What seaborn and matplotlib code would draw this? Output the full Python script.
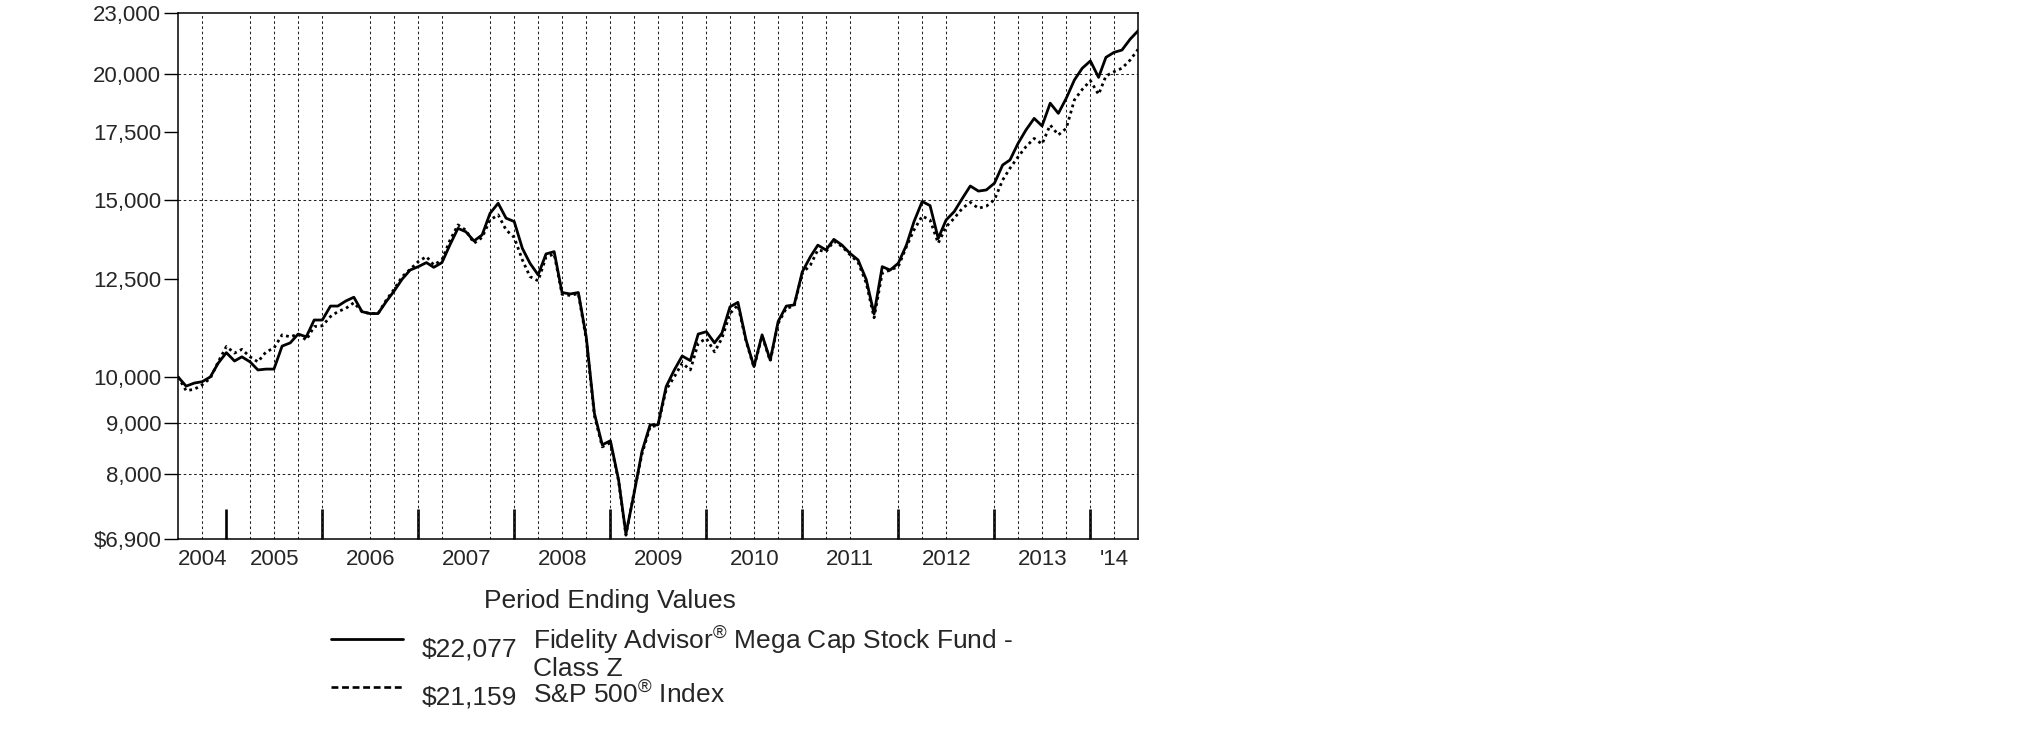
import pandas as pd
import seaborn as sns
import matplotlib.pyplot as plt
import matplotlib.dates as mdates
from matplotlib.lines import Line2D
from matplotlib.ticker import NullLocator

# Hypothetical growth of $10,000, month ends Jun 2004 - Jun 2014
fund_values = [
    10000, 9790, 9860, 9890, 10000, 10320, 10570, 10370, 10470, 10350,
    10160, 10180, 10180, 10730, 10810, 11030, 10960, 11390, 11390, 11760,
    11760, 11900, 12000, 11610, 11560, 11560, 11880, 12170, 12510, 12770,
    12870, 12990, 12850, 12990, 13520, 14050, 13940, 13650, 13840, 14540,
    14880, 14380, 14270, 13420, 12970, 12630, 13250, 13320, 12130, 12090,
    12130, 10960, 9200, 8560, 8640, 7900, 6980, 7660, 8430, 8960,
    8960, 9780, 10160, 10490, 10380, 11030, 11090, 10810, 11050, 11740,
    11860, 10880, 10240, 11010, 10390, 11350, 11760, 11790, 12720, 13170,
    13520, 13370, 13700, 13520, 13270, 13070, 12500, 11550, 12870, 12770,
    12970, 13520, 14270, 14940, 14800, 13730, 14320, 14600, 15050, 15480,
    15300, 15340, 15580, 16240, 16430, 17070, 17600, 18070, 17760, 18710,
    18280, 18920, 19730, 20270, 20610, 19850, 20780, 21020, 21130, 21660,
    22077,
]
index_values = [
    10000, 9690, 9720, 9820, 9970, 10350, 10720, 10560, 10650, 10470,
    10350, 10590, 10680, 11010, 10960, 11030, 10880, 11220, 11240, 11480,
    11610, 11700, 11850, 11610, 11560, 11560, 11920, 12220, 12580, 12790,
    13020, 13170, 12920, 13070, 13660, 14160, 13990, 13580, 13760, 14320,
    14490, 14000, 13760, 13070, 12580, 12460, 13150, 13250, 12080, 12050,
    12100, 10900, 9150, 8520, 8600, 7880, 6960, 7680, 8380, 8920,
    8950, 9710, 10000, 10320, 10160, 10800, 10920, 10590, 10920, 11560,
    11790, 10850, 10220, 10980, 10370, 11300, 11700, 11760, 12680, 12920,
    13370, 13320, 13640, 13480, 13230, 13000, 12400, 11450, 12680, 12770,
    12870, 13470, 14000, 14450, 14320, 13580, 14100, 14380, 14710, 14910,
    14710, 14780, 15000, 15690, 16120, 16550, 16940, 17260, 17040, 17800,
    17400, 17660, 18850, 19310, 19700, 19090, 19910, 20110, 20270, 20650,
    21159,
]

y_ticks = [6900, 8000, 9000, 10000, 12500, 15000, 17500, 20000, 23000]
y_tick_labels = ["\\$6,900", "8,000", "9,000", "10,000", "12,500",
                 "15,000", "17,500", "20,000", "23,000"]
y_grid = [8000, 9000, 15000, 20000]
year_labels = ["2004", "2005", "2006", "2007", "2008", "2009",
               "2010", "2011", "2012", "2013", "'14"]
# quarter ends where the reference shows no grid line
grid_skip = ["2004-12-31", "2006-03-31", "2007-06-30", "2011-09-30", "2012-09-30"]

fund_label = "Fidelity Advisor$^{\\mathrm{®}}$ Mega Cap Stock Fund -"
fund_label2 = "Class Z"
index_label = "S&P 500$^{\\mathrm{®}}$ Index"
fund_end = "\\$22,077"
index_end = "\\$21,159"

dates = pd.date_range("2004-06-30", "2014-06-30", freq="ME")
df = pd.DataFrame({"date": dates, "fund": fund_values, "index": index_values})

sns.set_style("white")
plt.rcParams["font.family"] = ["Liberation Sans", "DejaVu Sans"]
plt.rcParams["mathtext.fontset"] = "custom"
plt.rcParams["mathtext.rm"] = "Liberation Sans"
plt.rcParams["mathtext.default"] = "rm"

W, H = 2025, 738
fig = plt.figure(figsize=(W / 100, H / 100), dpi=100)
ax = fig.add_axes([178 / W, 1 - 539 / H, 960 / W, 526 / H])

# dotted grid: quarter ends and a few value levels
quarters = pd.date_range("2004-09-30", "2014-03-31", freq="QE")
for q in quarters:
    if q.strftime("%Y-%m-%d") in grid_skip:
        continue
    ax.axvline(q, color="#222222", lw=0.75, ls=(0, (2.5, 2.5)), zorder=1)
for g in y_grid:
    ax.axhline(g, color="#222222", lw=0.75, ls=(0, (2.5, 2.5)), zorder=1)

sns.lineplot(data=df, x="date", y="index", color="black", lw=2.0,
             linestyle=(0, (1, 1.3)), ax=ax, zorder=3)
sns.lineplot(data=df, x="date", y="fund", color="black", lw=2.0, ax=ax, zorder=4)

ax.set_yscale("log")
ax.set_ylim(6900, 23000)
ax.set_yticks(y_ticks)
ax.set_yticklabels(y_tick_labels)
ax.yaxis.set_minor_locator(NullLocator())
ax.set_xlim(dates[0], dates[-1])

year_ends = pd.date_range("2004-12-31", "2013-12-31", freq="YE")
bounds = [dates[0]] + list(year_ends) + [dates[-1]]
mids = [a + (b - a) / 2 for a, b in zip(bounds[:-1], bounds[1:])]
ax.set_xticks(mdates.date2num(list(year_ends)))
ax.set_xticklabels([""] * len(year_ends))
ax.set_xticks(mdates.date2num(mids), minor=True)
ax.set_xticklabels(year_labels, minor=True)

ax.tick_params(axis="x", which="major", direction="in", length=21.5, width=1.9,
               color="black", bottom=True, top=False)
ax.tick_params(axis="x", which="minor", length=0, pad=7.5, labelsize=16)
ax.tick_params(axis="y", which="major", direction="out", length=10, width=1,
               color="black", pad=2, labelsize=16, left=True)
ax.set_xlabel("")
ax.set_ylabel("")
for s in ax.spines.values():
    s.set_color("black")
    s.set_linewidth(1.1)


def fx(x):
    return x / W


def fy(y):
    return 1 - y / H


# legend block under the plot
fs = 19
fig.text(fx(610), fy(608), "Period Ending Values", ha="center", va="baseline", fontsize=fs)
fig.add_artist(Line2D([fx(331), fx(403)], [fy(639), fy(639)], color="black", lw=2))
fig.add_artist(Line2D([fx(331), fx(403)], [fy(687), fy(687)], color="black", lw=1.9,
                      linestyle=(0, (2.6, 1.4))))
fig.text(fx(422), fy(657), fund_end, ha="left", va="baseline", fontsize=fs)
fig.text(fx(533), fy(650), fund_label, ha="left", va="baseline", fontsize=fs)
fig.text(fx(533), fy(676), fund_label2, ha="left", va="baseline", fontsize=fs)
fig.text(fx(422), fy(704), index_end, ha="left", va="baseline", fontsize=fs)
fig.text(fx(533), fy(704), index_label, ha="left", va="baseline", fontsize=fs)

fig.savefig("out.png", dpi=100, facecolor="white")
